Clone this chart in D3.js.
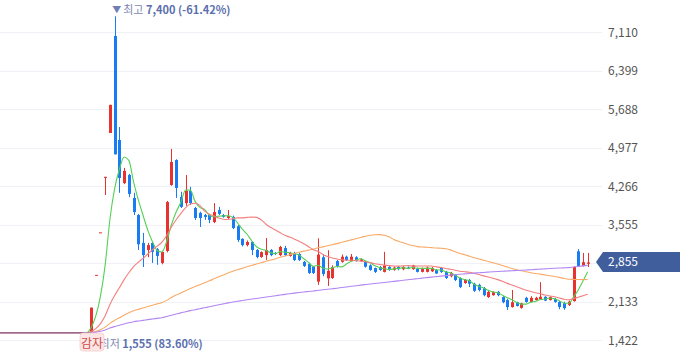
<!DOCTYPE html>
<html><head><meta charset="utf-8">
<script src="https://cdn.jsdelivr.net/npm/d3@7"></script>
<style>body{margin:0;background:#fff;overflow:hidden} svg{display:block}</style>
</head><body><svg id="c" width="680" height="358"></svg>
<script>
// ---- data ----
const opens  = [1555,2625,3410,4420,5245,7036,5116,4320,4470,4045,3730,3215,3085,3215,3100,2845,3065,4285,4745,4065,
  3950,4175,3860,3770,3730,3730,3600,3823,3730,3675,3695,3525,3290,3175,3232,3085,2955,2990,3085,3030,
  2990,3120,2975,3030,3010,2865,2830,2780,2500,2950,2560,2567,2880,2866,2960,2880,2950,2880,2866,2800,
  2750,2770,2680,2770,2720,2770,2730,2760,2730,2740,2680,2680,2690,2715,2752,2680,2600,2622,2567,2475,
  2530,2460,2440,2380,2215,2250,2310,2215,2160,2030,2120,2015,2200,2125,2160,2180,2220,2160,2180,2125,
  2100,2070,2140,3060,2790,2830];
const highs  = [2020,2625,3410,4435,5765,7400,5355,4600,4490,4140,3750,3400,3215,3230,3120,3070,3990,4950,4760,4160,
  4470,4250,3880,3790,3750,3750,3950,3880,3750,3823,3720,3545,3300,3260,3250,3100,3060,3306,3100,3045,
  3160,3160,3050,3050,3030,2880,2850,2790,3300,3000,3080,2800,2900,3000,2980,3010,2970,2930,2880,2820,
  2760,2790,3050,2790,2780,2790,2790,2780,2810,2760,2760,2780,2770,2730,2770,2700,2680,2640,2580,2550,
  2550,2480,2460,2400,2330,2320,2330,2230,2180,2345,2130,2110,2220,2230,2220,2490,2230,2230,2200,2140,
  2130,2150,2780,3100,3030,3030];
const lows   = [1555,2625,3410,4100,5245,4850,4140,4300,4060,3730,3085,2770,2950,2845,2810,2820,3040,4270,4045,3860,
  3900,3920,3640,3510,3640,3580,3580,3730,3680,3660,3470,3232,3150,3150,2990,2930,2940,2900,2970,2990,
  2970,2970,2960,2880,2880,2770,2640,2640,2440,2600,2420,2550,2760,2850,2880,2870,2870,2870,2760,2700,
  2660,2700,2670,2700,2700,2710,2710,2730,2720,2670,2670,2670,2680,2640,2660,2550,2580,2510,2380,2460,
  2400,2310,2320,2230,2200,2240,2230,2100,1976,2020,2040,2000,2110,2115,2150,2170,2140,2150,2110,1990,
  1980,2050,2130,2780,2780,2770];
const closes = [2020,2625,3410,4435,5765,4850,4414,4545,4120,3785,3190,2990,3175,3050,2975,3047,3970,4710,4230,3880,
  4175,3950,3675,3675,3695,3640,3785,3750,3695,3710,3490,3270,3175,3232,3085,2955,3045,3085,2990,3010,
  3140,2990,3030,2900,2900,2790,2660,2660,3000,2640,2700,2770,2790,2960,2900,2960,2880,2910,2775,2715,
  2680,2715,2800,2720,2760,2730,2770,2740,2800,2680,2740,2760,2750,2650,2680,2567,2660,2530,2400,2530,
  2460,2330,2345,2250,2310,2310,2250,2120,2030,2120,2050,2100,2125,2200,2200,2220,2150,2215,2125,2030,
  2010,2130,2770,2790,2860,2855];
const suspendedPrice = 1555;   // flat price before the first candle
const suspendedDays = 140;
const maPeriods = [5, 60, 20, 120];
const yTicks = [1422, 2133, 2844, 3555, 4266, 4977, 5688, 6399, 7110];
const lastPrice = 2855;
const highIndex = 5, highText = ["▼ ", "최고 ", "7,400 (-61.42%)"];
const lowIndex = 0,  lowText  = ["▲ ", "최저 ", "1,555 (83.60%)"];
const eventIndex = 0, eventLabel = "감자";

// ---- drawing ----
const W = 680, H = 358;
const svg = d3.select("#c");
const font = "'Noto Sans CJK KR','Noto Sans',sans-serif";
const y = d3.scaleLinear().domain([1422, 7110]).range([340, 32]);
const x = d3.scaleLinear().domain([0, closes.length - 1]).range([91, 587.7]);
const colUp = "#e8322f", colDn = "#1a7cf2";
const maColor = {5: "#55d055", 20: "#f47f7f", 60: "#f8aa66", 120: "#b286f3"};

svg.append("defs").append("clipPath").attr("id", "plot")
  .append("rect").attr("x", 0).attr("y", 0).attr("width", 596).attr("height", H);

// grid
svg.append("g").selectAll("line").data(yTicks).join("line")
  .attr("x1", 0).attr("x2", 602).attr("y1", d => Math.round(y(d)) + 0.5).attr("y2", d => Math.round(y(d)) + 0.5)
  .attr("stroke", "#eff1f6").attr("stroke-width", 1);

// axis labels
const axis = d3.axisRight(y).tickValues(yTicks).tickSize(0).tickPadding(0).tickFormat(d3.format(","));
const ag = svg.append("g").attr("transform", "translate(608,0)").call(axis);
ag.select(".domain").remove();
ag.selectAll("text").attr("font-family", font).attr("font-size", 12).attr("fill", "#555").attr("dy", "0.35em");

const plot = svg.append("g").attr("clip-path", "url(#plot)");

// candles
const idx = d3.range(closes.length);
const cg = plot.append("g");
const bw = 3;
cg.selectAll("line").data(idx).join("line")
  .attr("x1", i => Math.round(x(i)) + 0.5).attr("x2", i => Math.round(x(i)) + 0.5)
  .attr("y1", i => y(highs[i])).attr("y2", i => y(lows[i]))
  .attr("stroke", i => closes[i] >= opens[i] ? colUp : colDn).attr("stroke-width", 1);
cg.selectAll("rect").data(idx).join("rect")
  .attr("x", i => Math.round(x(i)) + 0.5 - bw / 2)
  .attr("width", bw)
  .attr("y", i => y(Math.max(opens[i], closes[i])))
  .attr("height", i => Math.max(1, Math.abs(y(opens[i]) - y(closes[i]))))
  .attr("fill", i => closes[i] >= opens[i] ? colUp : colDn);

// moving averages
const full = d3.range(suspendedDays).map(() => suspendedPrice).concat(closes);
maPeriods.forEach(p => {
  const pts = [];
  for (let k = p - 1; k < full.length; k++) {
    const v = d3.mean(full.slice(k - p + 1, k + 1));
    pts.push([x(k - suspendedDays), y(v)]);
  }
  plot.append("path").attr("d", d3.line().curve(d3.curveMonotoneX)(pts))
    .attr("fill", "none").attr("stroke", maColor[p]).attr("stroke-width", 1.1);
});
// flat segment before the first candle (overlapping averages)
plot.append("line").attr("x1", 0).attr("x2", x(0)).attr("y1", y(suspendedPrice)).attr("y2", y(suspendedPrice))
  .attr("stroke", "#9a6283").attr("stroke-width", 1.6).attr("stroke-opacity", 0.85);

// high / low annotations
function annot(i, parts, yy) {
  const t = svg.append("text").attr("x", x(i) - 2.5).attr("y", yy)
    .attr("font-family", font).attr("font-size", 11).attr("dominant-baseline", "central");
  t.append("tspan").text(parts[0]).attr("fill", "#6f7fb5").attr("font-size", 9);
  t.append("tspan").text(parts[1]).attr("fill", "#7d88b0");
  t.append("tspan").text(parts[2]).attr("fill", "#5c70ae").attr("font-weight", "bold");
}
annot(highIndex, highText, 9);
annot(lowIndex, lowText, 343);

// event badge
const ex = Math.round(x(eventIndex));
svg.append("rect").attr("x", ex - 11).attr("y", 333).attr("width", 24).attr("height", 18).attr("rx", 3)
  .attr("fill", "#fde6e6").attr("stroke", "#f6cccc").attr("stroke-width", 0.8);
svg.append("text").attr("x", ex + 1).attr("y", 342).attr("text-anchor", "middle").attr("dominant-baseline", "central")
  .attr("font-family", font).attr("font-size", 12).attr("fill", "#cf4b46").text(eventLabel);

// current price tag
const py = Math.round(y(lastPrice));
svg.append("path").attr("d", `M596,${py} L603,${py - 10} L680,${py - 10} L680,${py + 10} L603,${py + 10} Z`)
  .attr("fill", "#405d9c");
svg.append("text").attr("x", 608).attr("y", py).attr("dy", "0.35em")
  .attr("font-family", font).attr("font-size", 12).attr("fill", "#fff").text(d3.format(",")(lastPrice));
</script></body></html>
